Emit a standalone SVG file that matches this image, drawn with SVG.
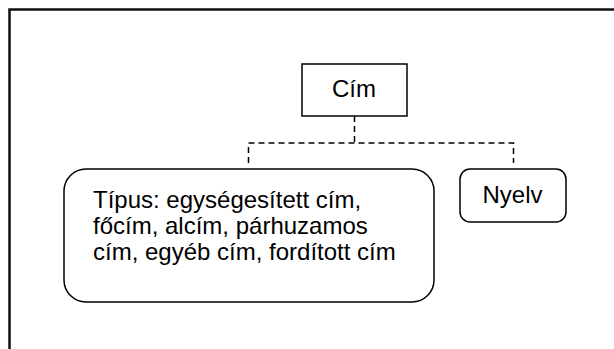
<svg xmlns="http://www.w3.org/2000/svg" width="614" height="349" viewBox="0 0 614 349">
<style>
.box{fill:#fff;stroke:#000;stroke-width:1.5}
.t{font-family:"Liberation Sans",Arial,sans-serif;font-size:24px;fill:#000}
.c{fill:none;stroke:#000;stroke-width:1.5;stroke-dasharray:6 4}
</style>
<rect width="614" height="349" fill="#fff"/>
<path d="M9.5 360 V9.5 H620" fill="none" stroke="#111" stroke-width="2.5"/>
<g id="connectors">
<path class="c" d="M354.5 116 V143 M248.5 163 V143 H513.5 V163"/>
</g>
<g id="cim">
<rect class="box" x="302" y="64" width="105" height="52"/>
<text class="t" x="354" y="97" text-anchor="middle">Cím</text>
</g>
<g id="tipus">
<rect class="box" x="64" y="169" width="370" height="133" rx="22"/>
<text class="t" x="93" y="207.5">Típus: egységesített cím,</text>
<text class="t" x="93" y="233.5">főcím, alcím, párhuzamos</text>
<text class="t" x="93" y="260">cím, egyéb cím, fordított cím</text>
</g>
<g id="nyelv">
<rect class="box" x="460" y="169" width="106" height="53" rx="10"/>
<text class="t" x="512.5" y="203" text-anchor="middle">Nyelv</text>
</g>
</svg>
